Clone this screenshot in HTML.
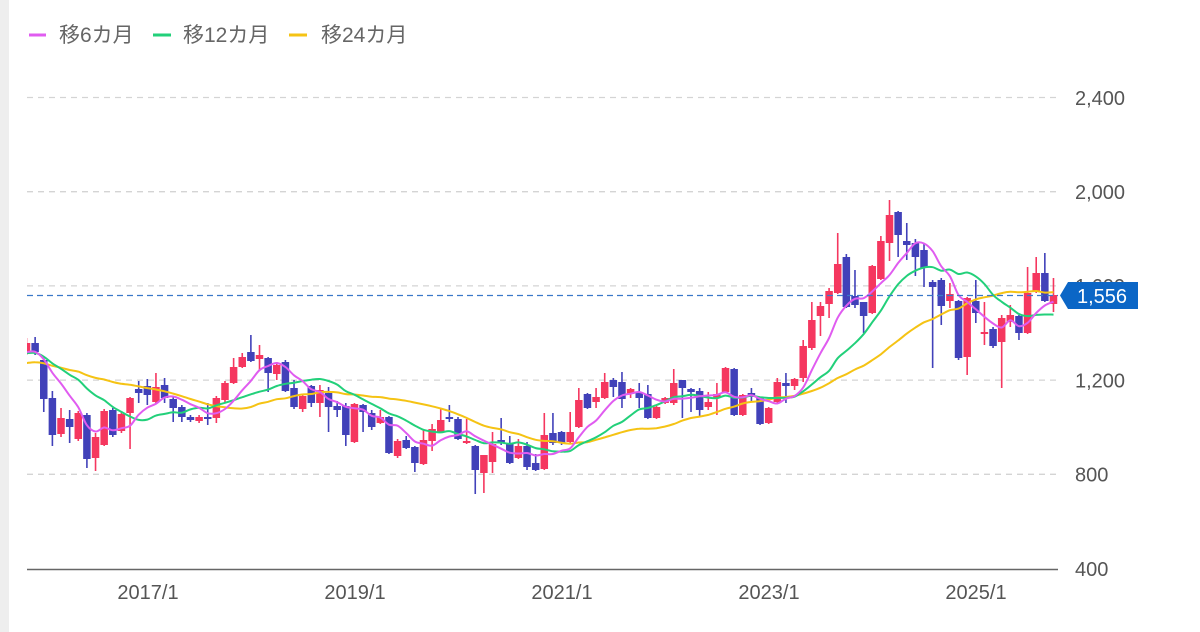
<!DOCTYPE html>
<html><head><meta charset="utf-8">
<style>
html,body{margin:0;padding:0;background:#fff;}
svg{display:block;}
.lg{font-family:"Liberation Sans","Noto Sans CJK JP",sans-serif;font-size:21px;fill:#666;}
.ax{font-family:"Liberation Sans",sans-serif;font-size:20px;fill:#555;}
</style></head>
<body>
<svg id="s" width="1200" height="632" viewBox="0 0 1200 632" xmlns="http://www.w3.org/2000/svg">
<defs><clipPath id="c"><rect x="27" y="0" width="1031" height="632"/></clipPath></defs>
<rect x="0" y="0" width="1200" height="632" fill="#fff"/>
<rect x="0" y="0" width="9" height="632" fill="#eeeeee"/>
<!-- legend -->
<line x1="29" y1="35" x2="46" y2="35" stroke="#e05cf0" stroke-width="3"/>
<text class="lg" x="59" y="42">移6カ月</text>
<line x1="153" y1="35" x2="171" y2="35" stroke="#22d07a" stroke-width="3"/>
<text class="lg" x="183" y="42">移12カ月</text>
<line x1="289" y1="35" x2="307" y2="35" stroke="#f5c314" stroke-width="3"/>
<text class="lg" x="321" y="42">移24カ月</text>
<!-- grid -->
<g stroke="#d4d4d4" stroke-width="1.3" stroke-dasharray="6,5">
<line x1="27" y1="97.5" x2="1058" y2="97.5"/>
<line x1="27" y1="191.7" x2="1058" y2="191.7"/>
<line x1="27" y1="285.9" x2="1058" y2="285.9"/>
<line x1="27" y1="380.1" x2="1058" y2="380.1"/>
<line x1="27" y1="474.3" x2="1058" y2="474.3"/>
</g>
<line x1="27" y1="569.5" x2="1058" y2="569.5" stroke="#666" stroke-width="1.6"/>
<g id="cd" clip-path="url(#c)"></g>
<g id="ma" clip-path="url(#c)" fill="none" stroke-width="2"></g>
<line x1="27" y1="295.5" x2="1058" y2="295.5" stroke="#3a78c9" stroke-width="1.3" stroke-dasharray="6,4"/>
<!-- y labels -->
<text class="ax" x="1075" y="105">2,400</text>
<text class="ax" x="1075" y="199">2,000</text>
<text class="ax" x="1075" y="293">1,600</text>
<text class="ax" x="1075" y="387.5">1,200</text>
<text class="ax" x="1075" y="481.5">800</text>
<text class="ax" x="1075" y="576">400</text>
<!-- price tag -->
<polygon points="1060,295.5 1068,282 1138,282 1138,309 1068,309" fill="#0b66c6"/>
<text x="1077" y="303" style="font-family:'Liberation Sans',sans-serif;font-size:20px;fill:#fff;">1,556</text>
<!-- x labels -->
<text class="ax" x="148" y="599" text-anchor="middle">2017/1</text>
<text class="ax" x="355" y="599" text-anchor="middle">2019/1</text>
<text class="ax" x="562" y="599" text-anchor="middle">2021/1</text>
<text class="ax" x="769" y="599" text-anchor="middle">2023/1</text>
<text class="ax" x="976" y="599" text-anchor="middle">2025/1</text>
</svg>
<script>
var D=[
"r 343 352 338 355","b 343 352 337 355","b 360 399 357 412","b 398 435 391 446","r 418 434 408 437",
"b 419 427 410 443","r 413 439 411 441","b 415 459 413 468","r 437 458 433 471","r 411 445 409 446",
"b 410 435 408 437","r 414 431 412 433","r 398 413 397 449","b 389 393 381 403","b 386 395 379 405",
"r 387 402 373 403","b 385 398 378 403","b 399 408 397 422","b 407 417 405 422","b 417 420 415 422",
"r 417 421 415 423","b 417 419 403 425","r 398 418 396 423","r 383 400 381 402","r 367 383 358 384",
"r 357 367 353 368","b 352 361 335 362","r 355 359 345 370","b 358 373 357 392","r 365 374 362 380",
"b 362 391 360 392","b 388 407 380 409","r 396 409 394 412","b 386 403 385 407","r 390 403 385 417",
"b 393 407 387 432","b 406 410 401 417","b 406 435 403 446","r 404 442 403 443","b 405 412 404 432",
"b 413 427 410 430","r 417 423 410 424","b 417 453 416 454","r 441 456 439 458","b 440 448 436 449",
"b 447 463 446 472","r 440 464 430 465","r 429 441 424 451","r 420 432 408 433","b 417 419 405 422",
"b 419 439 417 440","r 441 443 419 444","b 446 470 445 494","r 455 473 455 493","r 444 462 432 473",
"b 440 443 418 445","b 444 463 436 464","r 446 458 439 459","b 446 467 442 470","b 463 470 454 471",
"r 435 469 413 470","b 433 443 413 445","b 432 443 431 445","r 432 442 412 443","r 400 427 388 428",
"b 394 408 393 409","r 397 402 388 408","r 382 398 373 399","b 380 387 378 397","b 382 399 372 408",
"r 389 394 388 398","b 392 398 383 408","b 394 418 385 419","r 407 418 405 419","r 398 403 397 404",
"r 383 403 369 405","b 380 388 380 418","b 389 392 388 412","b 391 410 388 417","r 402 407 392 410",
"r 394 398 383 415","r 368 392 367 393","b 369 415 368 416","r 395 415 394 416","b 393 397 388 402",
"b 398 424 397 425","r 408 423 407 424","r 382 402 378 403","b 383 386 373 403","r 379 386 378 390",
"r 346 378 340 382","r 320 348 302 350","r 306 316 302 336","r 291 304 288 318","r 264 293 233 294",
"b 257 307 254 308","b 296 305 270 308","b 302 316 302 333","r 266 313 265 314","r 241 279 236 280",
"r 215 243 200 261","b 212 235 211 257","b 241 245 223 260","b 243 257 239 276","b 250 268 244 287",
"b 282 287 280 368","b 280 306 278 325","r 294 301 283 308","b 301 358 300 360","r 298 357 297 375",
"b 301 313 280 323","r 332 334 302 345","b 329 346 327 348","r 318 342 315 388","r 315 322 305 327",
"b 316 333 315 340","r 293 333 267 334","r 273 292 257 293","b 273 301 253 302","r 295 304 278 312"];
var NS="http://www.w3.org/2000/svg";
var cd=document.getElementById("cd"),ma=document.getElementById("ma");
function X(i){return 26.5+8.63*i;}
var closes=[];
var RED="#f5375f",BLUE="#4141b9";
D.forEach(function(s,i){
  var p=s.split(" "),t=p[0],top=+p[1],bot=+p[2],hi=+p[3],lo=+p[4];
  var col=t=="r"?RED:BLUE;
  closes.push(t=="r"?top:bot);
  var x=X(i);
  var l=document.createElementNS(NS,"line");
  l.setAttribute("x1",x);l.setAttribute("x2",x);l.setAttribute("y1",hi);l.setAttribute("y2",lo);
  l.setAttribute("stroke",col);l.setAttribute("stroke-width","1.6");cd.appendChild(l);
  var r=document.createElementNS(NS,"rect");
  var h=Math.max(bot-top,1.5);
  r.setAttribute("x",x-3.75);r.setAttribute("y",top);r.setAttribute("width",7.5);r.setAttribute("height",h);
  r.setAttribute("fill",col);cd.appendChild(r);
});
var hist=[];
for(var k=0;k<12;k++)hist.push(373);
for(var k=0;k<11;k++)hist.push(354);
var all=hist.concat(closes);
function maPts(n){
  var pts=[];
  for(var i=0;i<closes.length;i++){
    var j=i+hist.length,s=0;
    for(var q=j-n+1;q<=j;q++)s+=all[q];
    pts.push([X(i),s/n]);
  }
  return pts;
}
function path(p){
  var d="M"+p[0][0].toFixed(1)+","+p[0][1].toFixed(1);
  for(var i=0;i<p.length-1;i++){
    var p0=p[i-1]||p[i],p1=p[i],p2=p[i+1],p3=p[i+2]||p2;
    var c1x=p1[0]+(p2[0]-p0[0])/6,c1y=p1[1]+(p2[1]-p0[1])/6;
    var c2x=p2[0]-(p3[0]-p1[0])/6,c2y=p2[1]-(p3[1]-p1[1])/6;
    d+="C"+c1x.toFixed(1)+","+c1y.toFixed(1)+" "+c2x.toFixed(1)+","+c2y.toFixed(1)+" "+p2[0].toFixed(1)+","+p2[1].toFixed(1);
  }
  return d;
}
[[24,"#f5c314"],[12,"#22d07a"],[6,"#e05cf0"]].forEach(function(m){
  var e=document.createElementNS(NS,"path");
  e.setAttribute("d",path(maPts(m[0])));e.setAttribute("stroke",m[1]);
  ma.appendChild(e);
});
</script>
</body></html>
